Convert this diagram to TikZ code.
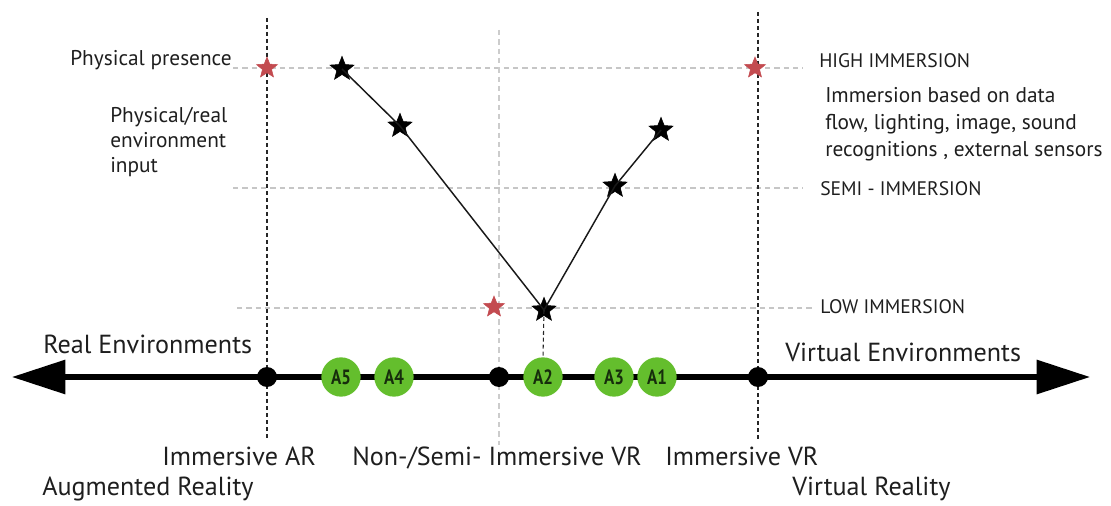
\documentclass[tikz,border=0pt]{standalone}
\usepackage{fontspec}
\setmainfont{PT Sans}
\newfontfamily\condfont[FakeStretch=0.82]{PT Sans}
\usetikzlibrary{shapes.geometric,arrows.meta}
\definecolor{agreen}{RGB}{100,190,45}
\definecolor{agtext}{RGB}{22,45,12}
\definecolor{rstar}{RGB}{195,75,80}
\definecolor{txt}{RGB}{30,30,30}
\tikzset{
  darkv/.style={black!85, line width=0.8pt, dash pattern=on 3pt off 2.2pt},
  lightv/.style={gray!40, line width=0.8pt, dash pattern=on 4pt off 3pt},
  lighth/.style={gray!45, line width=0.8pt, dash pattern=on 4pt off 3pt},
  bstar/.style={star, star points=5, star point ratio=2.3, fill=black, draw=black, minimum size=19pt, inner sep=0pt},
  redstar/.style={star, star points=5, star point ratio=2.3, fill=rstar, draw=rstar, minimum size=16.5pt, inner sep=0pt},
  dot/.style={circle, fill=black, minimum size=15pt, inner sep=0pt},
  anode/.style={circle, fill=agreen, minimum size=29.5pt, inner sep=0pt, text=agtext, font=\condfont\fontsize{15.5}{15.5}\selectfont\bfseries},
  lbl/.style={anchor=base west, inner sep=0pt, font=\fontsize{16}{19}\selectfont, text=txt},
  caplbl/.style={anchor=base west, inner sep=0pt, font=\fontsize{14.7}{17}\selectfont, text=txt},
  big/.style={anchor=base west, inner sep=0pt, font=\fontsize{19.6}{22}\selectfont, text=txt},
  vline/.style={black!90, line width=1.1pt}
}
\begin{document}
\begin{tikzpicture}[x=0.75pt,y=-0.75pt]
\useasboundingbox (0,0) rectangle (1111,506);
% horizontal guide lines
\draw[lighth] (233,68) -- (803,68);
\draw[lighth] (233,188) -- (803,188);
\draw[lighth] (237,308) -- (812,308);
% vertical guide lines
\draw[darkv] (267,18) -- (267,440);
\draw[lightv] (499,30) -- (499,445);
\draw[darkv] (758,12) -- (758,440);
% axis
\coordinate (L) at (12,377);
\coordinate (R) at (1090,377);
\draw[line width=3.8pt, arrows={Triangle[length=40pt,width=25pt]-Triangle[length=40pt,width=25pt]}] (L) -- (R);
% dots
\node[dot] (d1) at (267,377) {};
\node[dot] (d2) at (499,377) {};
\node[dot] (d3) at (758,377) {};
% green nodes
\node[anode] (a5) at (341,377) {A5};
\node[anode] (a4) at (394,377) {A4};
\node[anode] (a2) at (543,377) {A2};
\node[anode] (a3) at (614,377) {A3};
\node[anode] (a1) at (657,377) {A1};
% stars
\node[redstar] (r1) at (267,68) {};
\node[redstar] (r2) at (755,68) {};
\node[redstar] (r3) at (494,307) {};
\node[bstar] (s1) at (342,69) {};
\node[bstar] (s2) at (400,126) {};
\node[bstar] (s3) at (544,310) {};
\node[bstar] (s4) at (615,186) {};
\node[bstar] (s5) at (661,130) {};
\draw[vline] (s1.center) -- (s2.center) -- (s3.center) -- (s4.center) -- (s5.center);
\draw[darkv] (s3.center) -- (a2.north);
% labels
\node[lbl] (pp) at (70,66) {Physical presence};
\node[lbl] (pr1) at (110,123) {Physical/real};
\node[lbl] (pr2) at (110,148) {environment};
\node[lbl] (pr3) at (110,173) {input};
\node[caplbl] (hi) at (819,68) {HIGH IMMERSION};
\node[lbl] (ib1) at (825,103) {Immersion based on data};
\node[lbl] (ib2) at (825,130) {flow, lighting, image, sound};
\node[lbl] (ib3) at (825,157) {recognitions , external sensors};
\node[caplbl] (si) at (820,196) {SEMI - IMMERSION};
\node[caplbl] (li) at (820,313) {LOW IMMERSION};
\node[big] (re) at (43,353) {Real Environments};
\node[big] (ve) at (785,361) {Virtual Environments};
\node[big] (iar) at (162,465) {Immersive AR};
\node[big] (nsv) at (352,465) {Non-/Semi- Immersive VR};
\node[big] (ivr) at (665,465) {Immersive VR};
\node[big] (ar) at (42,495) {Augmented Reality};
\node[big] (vr) at (792,495) {Virtual Reality};
\end{tikzpicture}
\end{document}
